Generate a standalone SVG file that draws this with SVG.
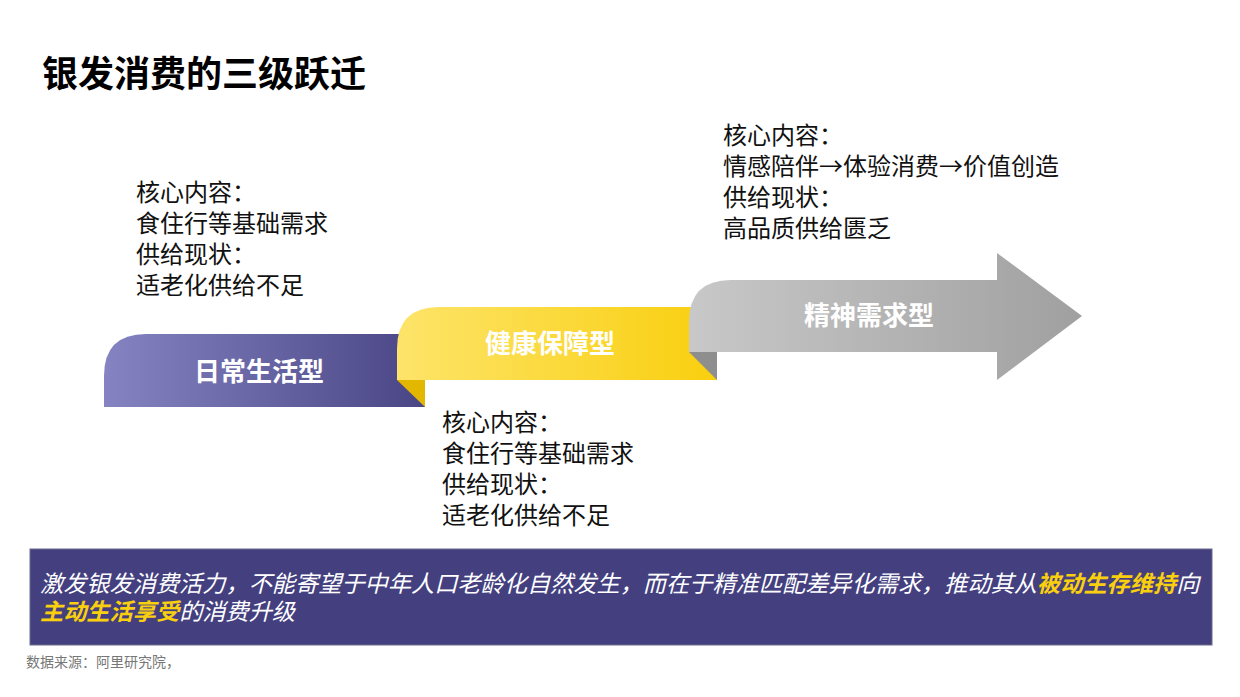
<svg xmlns="http://www.w3.org/2000/svg" width="1240" height="697" viewBox="0 0 1240 697">
<defs>
<linearGradient id="gp" x1="0" x2="1"><stop offset="0" stop-color="#8583c2"/><stop offset="1" stop-color="#4a4686"/></linearGradient>
<linearGradient id="gy" x1="0" x2="1"><stop offset="0" stop-color="#fde46a"/><stop offset="1" stop-color="#f9cf0e"/></linearGradient>
<linearGradient id="gg" x1="0" x2="1"><stop offset="0" stop-color="#c8c8c8"/><stop offset="1" stop-color="#a0a0a0"/></linearGradient>
<style>
text{font-family:"Noto Sans CJK SC","Noto Sans",sans-serif}
.t{font-size:24px;fill:#111}
.lab{font-size:26px;font-weight:bold;fill:#fff;text-anchor:middle}
.b{font-size:23.2px;fill:#fff;font-style:italic}
.h{fill:#f9cf0e;font-weight:bold}
</style>
</defs>
<rect width="1240" height="697" fill="#fff"/>
<text x="42" y="87" font-size="36" font-weight="bold" fill="#000">银发消费的三级跃迁</text>
<g id="connectors"></g>
<g id="stage1">
<path d="M104 407 V376 Q104 334 146 334 H425 V407 Z" fill="url(#gp)"/>
<text class="lab" x="259" y="381">日常生活型</text>
</g>
<g id="stage2">
<path d="M397 380 L425 380 L425 407 Z" fill="#e3b600"/>
<path d="M397 380 V349 Q397 307 439 307 H717 V380 Z" fill="url(#gy)"/>
<text class="lab" x="550" y="353">健康保障型</text>
</g>
<g id="stage3">
<path d="M689 352 L717 352 L717 380 Z" fill="#8e8e8e"/>
<path d="M689 352 V322 Q689 280 731 280 H997 V253 L1082 316 L997 380 V352 Z" fill="url(#gg)"/>
<text class="lab" x="869" y="325">精神需求型</text>
</g>
<g id="note1">
<text class="t" x="136" y="201">核心内容：</text>
<text class="t" x="136" y="232">食住行等基础需求</text>
<text class="t" x="136" y="263">供给现状：</text>
<text class="t" x="136" y="294">适老化供给不足</text>
</g>
<g id="note2">
<text class="t" x="442" y="431">核心内容：</text>
<text class="t" x="442" y="462">食住行等基础需求</text>
<text class="t" x="442" y="493">供给现状：</text>
<text class="t" x="442" y="524">适老化供给不足</text>
</g>
<g id="note3">
<text class="t" x="723" y="144">核心内容：</text>
<text class="t" x="723" y="175">情感陪伴→体验消费→价值创造</text>
<text class="t" x="723" y="206">供给现状：</text>
<text class="t" x="723" y="237">高品质供给匮乏</text>
</g>
<g id="summary">
<rect x="30" y="549" width="1182" height="96" fill="#44407f" stroke="#6a6a8a" stroke-width="1"/>
<text class="b" x="40" y="592">激发银发消费活力，不能寄望于中年人口老龄化自然发生，而在于精准匹配差异化需求，推动其从<tspan class="h">被动生存维持</tspan>向</text>
<text class="b" x="40" y="620"><tspan class="h">主动生活享受</tspan>的消费升级</text>
</g>
<text x="26" y="667" font-size="14" fill="#777">数据来源：阿里研究院，</text>
</svg>
